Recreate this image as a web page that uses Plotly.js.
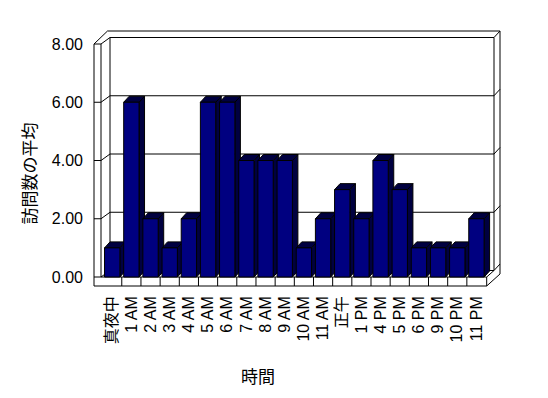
<!DOCTYPE html>
<html><head><meta charset="utf-8">
<script src="https://cdn.plot.ly/plotly-3.0.1.min.js"></script>
<style>html,body{margin:0;padding:0;background:#fff}</style>
</head><body><div id="chart" style="width:548px;height:398px"></div>
<script>
// ---- data ----
const categories = ['真夜中','1 AM','2 AM','3 AM','4 AM','5 AM','6 AM','7 AM','8 AM','9 AM','10 AM','11 AM','正午','1 PM','4 PM','5 PM','6 PM','9 PM','10 PM','11 PM'];
const visits = [1,6,2,1,2,6,6,4,4,4,1,2,3,2,4,3,1,1,1,2];
const yTicks = [0,2,4,6,8];
const yTickText = ['0.00','2.00','4.00','6.00','8.00'];
const xTitle = '時間';
const yTitle = '訪問数の平均';

// ---- geometry (pixels) ----
const W=548, H=398;
const L=88, R=506, T=26, B=292;
const X0PX=112.2, XSTEP=19.17, Y0PX=277, YSTEP=29.125;
const X = px => (px - X0PX)/XSTEP;
const Y = py => (Y0PX - py)/YSTEP;
const PY = v => Y0PX - v*YSTEP;
const idx = categories.map((_, i) => i);

const BW = 0.8;
const DX = 5.5/XSTEP, DY = 6/YSTEP;

const shapes = [];
const lc = {color:'#000', width:1};
function seg(x0,y0,x1,y1){
  shapes.push({type:'line', xref:'x', yref:'y', layer:'below', x0:X(x0), y0:Y(y0), x1:X(x1), y1:Y(y1), line:lc});
}
// walls & floor (decorative frame)
const fL=94, fLi=101, bL=110, bR=494, bRo=500, fR=486.7;
const wallBack = 6.5;
seg(fL, PY(8), fL, 286);
seg(fLi, PY(8), fLi, PY(0));
seg(fL, PY(8), 107.5, 31);
seg(107.5, 31, bRo, 31);
seg(bL, PY(8)-wallBack, bL, PY(0)-wallBack);
seg(bR, PY(8)-wallBack, bR, PY(0)-wallBack);
seg(bRo, 31, bRo, 274);
seg(fLi, PY(0), fR, PY(0));
seg(fL, 286, fR, 286);
seg(fR, PY(0), fR, 286);
seg(fR, PY(0), bR, PY(0)-wallBack);
seg(fR, 286, bRo, 274);
// gridlines on walls
yTicks.forEach(v => {
  const p = PY(v);
  seg(fL, p, fLi, p);
  seg(fLi, p, bL, p - wallBack);
  seg(bL, p - wallBack, bR, p - wallBack);
  seg(bR, p - wallBack, bRo, p - wallBack - 6.5);
});
// floor front ticks
for (let i = 0; i < categories.length - 1; i++) {
  const xp = X0PX + (i + 0.5)*XSTEP;
  seg(xp, PY(0), xp, 286);
}
// 3D faces of bars
visits.forEach((v, i) => {
  const xl = i - BW/2, xr = i + BW/2;
  shapes.push({type:'path', xref:'x', yref:'y', layer:'below',
    path:`M${xr},0 L${xr},${v} L${xr+DX},${v+DY} L${xr+DX},${DY} Z`,
    fillcolor:'#000040', line:lc});
  shapes.push({type:'path', xref:'x', yref:'y', layer:'below',
    path:`M${xl},${v} L${xr},${v} L${xr+DX},${v+DY} L${xl+DX},${v+DY} Z`,
    fillcolor:'#000040', line:lc});
});

const tickFont = {family:'Liberation Sans, Arial, Noto Sans CJK JP, sans-serif', size:16, color:'#000'};
const titleFont = {family:'Noto Sans CJK JP, sans-serif', size:17, color:'#000'};

const trace = {
  type:'bar', x: idx, y: visits, width: BW,
  marker:{color:'#000080', line:{color:'#000', width:1}},
  hoverinfo:'none'
};

const layout = {
  width:W, height:H,
  margin:{l:L, r:W-R, t:T, b:H-B, pad:0},
  paper_bgcolor:'#fff', plot_bgcolor:'rgba(0,0,0,0)',
  showlegend:false,
  xaxis:{range:[X(L), X(R)], tickmode:'array', tickvals:idx, ticktext:categories, tickangle:-90,
    showgrid:false, zeroline:false, showline:false, ticks:'', tickfont:tickFont, fixedrange:true},
  yaxis:{range:[Y(B), Y(T)], tickmode:'array', tickvals:yTicks, ticktext:yTickText,
    showgrid:false, zeroline:false, showline:false, ticks:'', tickfont:tickFont, fixedrange:true,
    ticklabelstandoff:4},
  shapes: shapes,
  annotations:[
    {text:yTitle, xref:'paper', yref:'paper', x:(27.5-L)/(R-L), y:(B-174)/(B-T),
     xanchor:'center', yanchor:'middle', textangle:-90, showarrow:false, font:titleFont},
    {text:xTitle, xref:'paper', yref:'paper', x:(257.5-L)/(R-L), y:(B-375)/(B-T),
     xanchor:'center', yanchor:'middle', showarrow:false, font:titleFont}
  ]
};
Plotly.newPlot('chart', [trace], layout, {staticPlot:true, displayModeBar:false});
</script>
</body></html>
